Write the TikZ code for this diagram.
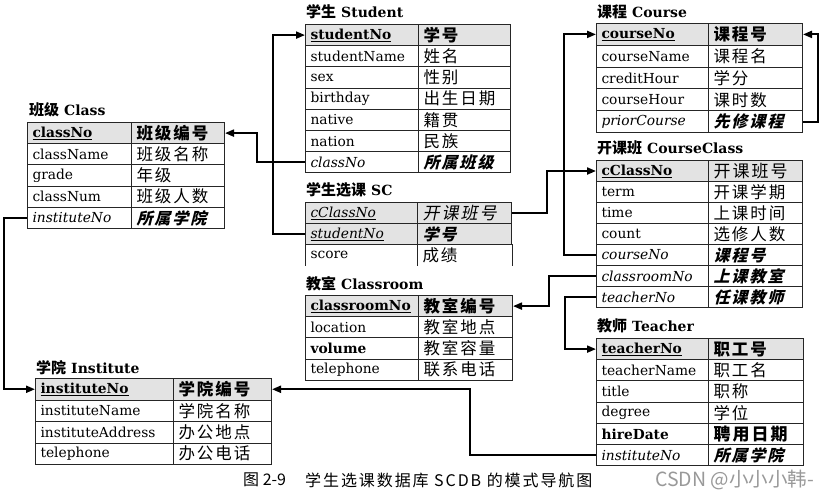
\documentclass[tikz,border=0pt]{standalone}
\usepackage{fontspec}
\setmainfont{DejaVu Serif}
\newfontfamily\cjk[LetterSpace=12]{Noto Sans CJK SC}
\newfontfamily\cjkcap[LetterSpace=12]{Noto Sans CJK SC}
\newfontfamily\cjkplain{Noto Sans CJK SC}
\usetikzlibrary{arrows.meta}
\newcommand\zh[1]{{\cjk\fontsize{16.5}{17}\selectfont #1}}
\newcommand\zhb[1]{{\cjk\bfseries\fontsize{16.5}{17}\selectfont #1}}
\newcommand\zhbi[1]{{\cjk\bfseries\fontsize{16}{17}\selectfont\addfontfeature{FakeSlant=0.25}#1}}
\newcommand\zhsl[1]{{\cjk\fontsize{17}{18}\selectfont\addfontfeature{FakeSlant=0.2}#1}}
\newcommand\zhbig[1]{{\cjk\fontsize{17}{18}\selectfont #1}}
\newcommand\zhbigb[1]{{\cjk\bfseries\fontsize{17}{18}\selectfont #1}}
\newcommand\ek[1]{\textbf{\underline{#1}}}
\newcommand\eki[1]{\textit{\underline{#1}}}
\newcommand\ttl[2]{{\cjkplain\bfseries\fontsize{15}{17}\selectfont #1}\hspace{5pt}{\bfseries\fontsize{14}{16}\selectfont #2}}
\newcommand\settbl[6]{\def\tN{#1}\def\tL{#2}\def\tM{#3}\def\tR{#4}\def\tT{#5}\def\tH{#6}%
  \pgfmathsetmacro\tWa{#3-#2-10}\pgfmathsetmacro\tWb{#4-#3-10}}
\newcommand\trow[4]{%
  \node[cell, fill=#2, minimum height=\tH pt, text width=\tWa pt] (\tN#1a) at (\tL,{\tT+(#1-1)*\tH}) {#3};
  \node[cell, fill=#2, minimum height=\tH pt, text width=\tWb pt] (\tN#1b) at (\tM,{\tT+(#1-1)*\tH}) {#4};}
\definecolor{hdr}{HTML}{E3E3E3}
\tikzset{
  cell/.style={draw=black!85, line width=1pt, rectangle, inner xsep=5pt, inner ysep=0pt,
    anchor=north west, align=left, font=\fontsize{13.8}{15}\selectfont},
  ttlnode/.style={anchor=west, inner sep=0pt},
  conn/.style={line width=2pt, draw=black, -{Triangle[length=9pt,width=7pt]}},
}
\begin{document}
\begin{tikzpicture}[x=1pt,y=-1pt]
\fill[white] (0,0) rectangle (832,496);
\useasboundingbox (0,0) rectangle (832,496);

% Class
\node[ttlnode] (clsT) at (29,110) {\ttl{班级}{Class}};
\settbl{cls}{27}{131}{224}{122}{21.2}
\trow{1}{hdr}{\ek{classNo}}{\zhb{班级编号}}
\trow{2}{none}{className}{\zh{班级名称}}
\trow{3}{none}{grade}{\zh{年级}}
\trow{4}{none}{classNum}{\zh{班级人数}}
\trow{5}{none}{\textit{instituteNo}}{\zhbi{所属学院}}

% Student
\node[ttlnode] (stT) at (306,12) {\ttl{学生}{Student}};
\settbl{st}{305}{418}{510}{24}{21.2}
\trow{1}{hdr}{\ek{studentNo}}{\zhb{学号}}
\trow{2}{none}{studentName}{\zh{姓名}}
\trow{3}{none}{sex}{\zh{性别}}
\trow{4}{none}{birthday}{\zh{出生日期}}
\trow{5}{none}{native}{\zh{籍贯}}
\trow{6}{none}{nation}{\zh{民族}}
\trow{7}{none}{\textit{classNo}}{\zhbi{所属班级}}

% SC
\node[ttlnode] (scT) at (306,190) {\ttl{学生选课}{SC}};
\settbl{sc}{305}{417}{511}{202}{21}
\trow{1}{hdr}{\eki{cClassNo}}{\zhsl{开课班号}}
\trow{2}{hdr}{\eki{studentNo}}{\zhbi{学号}}
\node[cell, draw=none, minimum height=21pt, text width=102pt] (sc3a) at (305,244) {score};
\node[cell, draw=none, minimum height=21pt, text width=84pt] (sc3b) at (417,244) {\zh{成绩}};
\draw[black!85, line width=1pt] (sc3a.north west) -- (sc3a.south west)
  (sc3b.north west) -- (sc3b.south west) (sc3b.north east) -- (sc3b.south east);

% Course
\node[ttlnode] (coT) at (597,12) {\ttl{课程}{Course}};
\settbl{co}{596}{708}{802}{23}{21.8}
\trow{1}{hdr}{\ek{courseNo}}{\zhb{课程号}}
\trow{2}{none}{courseName}{\zh{课程名}}
\trow{3}{none}{creditHour}{\zh{学分}}
\trow{4}{none}{courseHour}{\zh{课时数}}
\trow{5}{none}{\textit{priorCourse}}{\zhbi{先修课程}}

% CourseClass
\node[ttlnode] (ccT) at (597,148) {\ttl{开课班}{CourseClass}};
\settbl{cc}{596}{708}{802}{160}{21}
\trow{1}{hdr}{\ek{cClassNo}}{\zhbig{开课班号}}
\trow{2}{none}{term}{\zh{开课学期}}
\trow{3}{none}{time}{\zh{上课时间}}
\trow{4}{none}{count}{\zh{选修人数}}
\trow{5}{none}{\textit{courseNo}}{\zhbi{课程号}}
\trow{6}{none}{\textit{classroomNo}}{\zhbi{上课教室}}
\trow{7}{none}{\textit{teacherNo}}{\zhbi{任课教师}}

% Classroom
\node[ttlnode] (crT) at (306,284) {\ttl{教室}{Classroom}};
\settbl{cr}{305}{418}{512}{295}{21.2}
\trow{1}{hdr}{\ek{classroomNo}}{\zhb{教室编号}}
\trow{2}{none}{location}{\zh{教室地点}}
\trow{3}{none}{\textbf{volume}}{\zh{教室容量}}
\trow{4}{none}{telephone}{\zh{联系电话}}

% Institute
\node[ttlnode] (inT) at (36,368) {\ttl{学院}{Institute}};
\settbl{in}{35}{173}{271}{378}{21.5}
\trow{1}{hdr}{\ek{instituteNo}}{\zhb{学院编号}}
\trow{2}{none}{instituteName}{\zh{学院名称}}
\trow{3}{none}{instituteAddress}{\zh{办公地点}}
\trow{4}{none}{telephone}{\zh{办公电话}}

% Teacher
\node[ttlnode] (teT) at (597,326) {\ttl{教师}{Teacher}};
\settbl{te}{596}{708}{803}{338}{21.2}
\trow{1}{hdr}{\ek{teacherNo}}{\zhb{职工号}}
\trow{2}{none}{teacherName}{\zh{职工名}}
\trow{3}{none}{title}{\zh{职称}}
\trow{4}{none}{degree}{\zh{学位}}
\trow{5}{none}{\textbf{hireDate}}{\zhbigb{聘用日期}}
\trow{6}{none}{\textit{instituteNo}}{\zhbi{所属学院}}

% bend helpers
\coordinate (x1) at (257,0);
\coordinate (x2) at (273,0);
\coordinate (x3) at (4,0);
\coordinate (x4) at (470,0);
\coordinate (x5) at (547,0);
\coordinate (x6) at (564,0);
\coordinate (x7) at (818,0);
\coordinate (x8) at (549,0);
\coordinate (x9) at (565,0);

\draw[conn] (st7a.west) -| (x1 |- cls1b.east) -- (cls1b.east);
\draw[conn] (sc2a.west) -| (x2 |- st1a.west) -- (st1a.west);
\draw[conn] (cls5a.west) -| (x3 |- in1a.west) -- (in1a.west);
\draw[conn] (te6a.west) -| (x4 |- in1b.east) -- (in1b.east);
\draw[conn] (sc1b.east) -| (x5 |- cc1a.west) -- (cc1a.west);
\draw[conn] (cc5a.west) -| (x6 |- co1a.west) -- (co1a.west);
\draw[conn] (co5b.east) -| (x7 |- co1b.east) -- (co1b.east);
\draw[conn] (cc6a.west) -| (x8 |- cr1b.east) -- (cr1b.east);
\draw[conn] (cc7a.west) -| (x9 |- te1a.west) -- (te1a.west);

% caption
\node[anchor=west, inner sep=0pt, font=\cjkplain\fontsize{16}{18}\selectfont] (cap1) at (243,480) {图 2-9};
\node[anchor=west, inner sep=0pt, font=\cjkcap\fontsize{16}{18}\selectfont] (cap2) at (305,480) {学生选课数据库 SCDB 的模式导航图};
\node[anchor=west, inner sep=0pt, text=black!40, font=\cjkplain\fontsize{19.5}{21}\selectfont] (wm) at (655,480) {CSDN @小小小韩-};
\end{tikzpicture}
\end{document}
